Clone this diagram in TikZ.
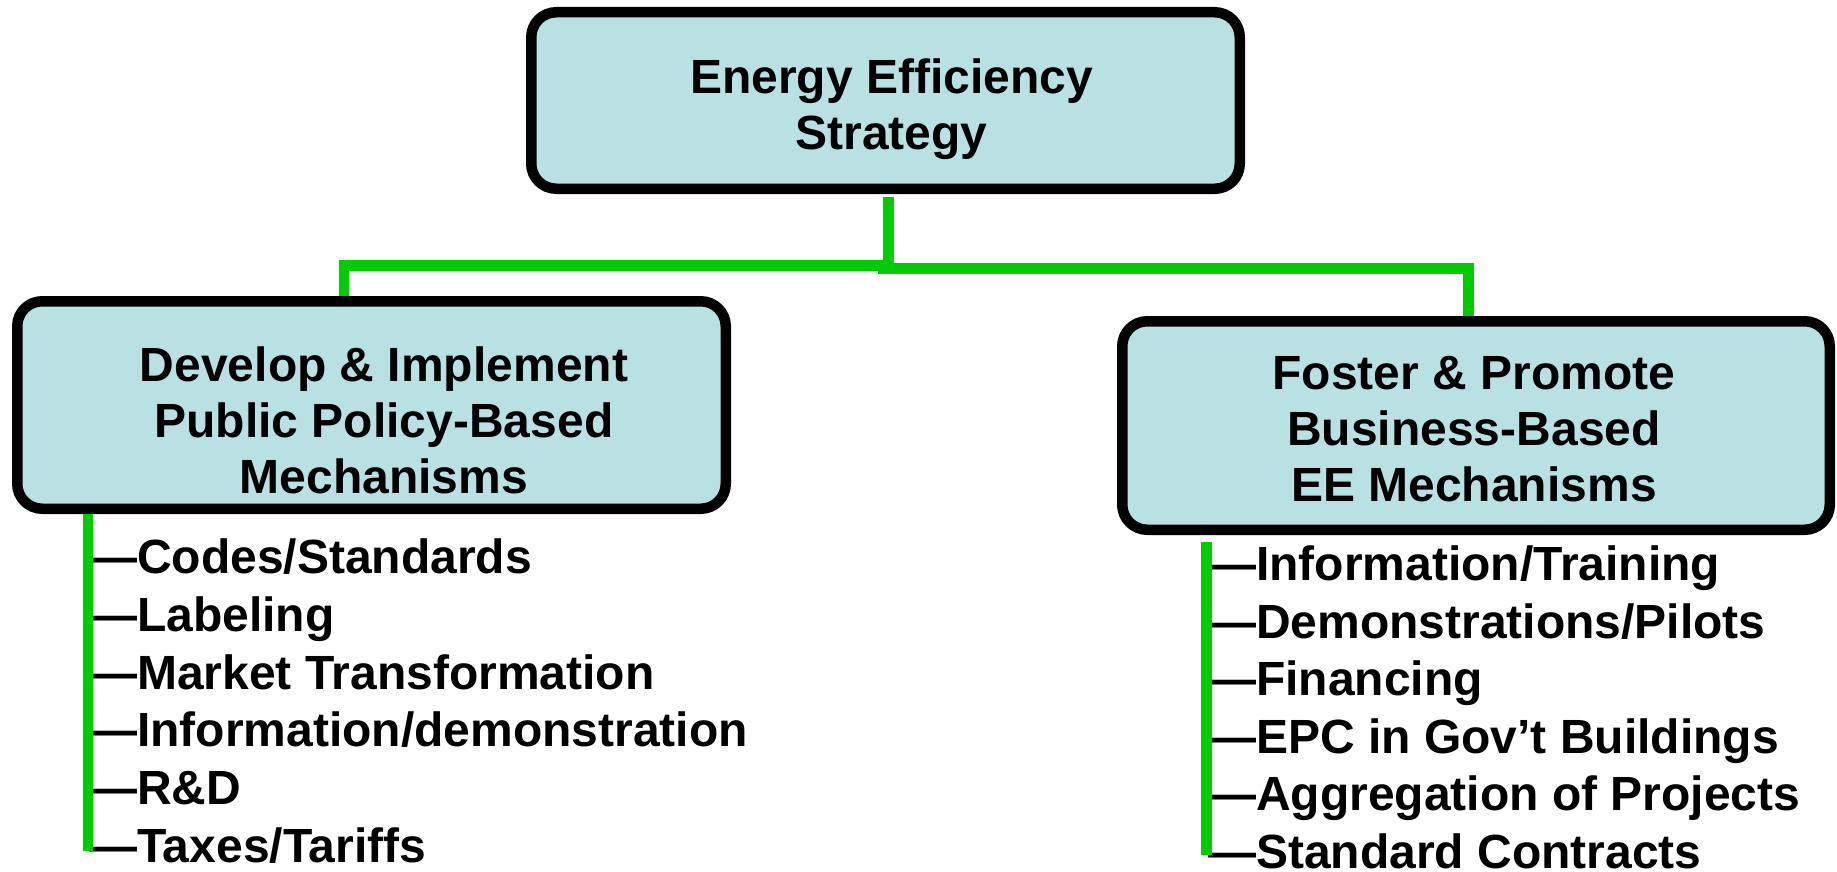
\documentclass[tikz,border=0pt]{standalone}
\usepackage{fontspec}
\setmainfont{Liberation Sans}
\definecolor{boxfill}{RGB}{185,224,227}
\definecolor{linegreen}{RGB}{0,204,0}
\tikzset{
  boxshape/.style={draw=black, fill=boxfill, line width=10.5pt, rounded corners=25pt, rectangle, inner sep=0pt},
  boxtext/.style={align=center, inner sep=0pt, font=\fontsize{48}{56}\selectfont\bfseries},
  itemtext/.style={anchor=base west, inner sep=0pt, font=\fontsize{48}{56}\selectfont\bfseries},
  greenline/.style={draw=linegreen, line width=10.5pt, line join=miter, line cap=butt},
}
\begin{document}
\begin{tikzpicture}[x=1pt,y=-1pt]
\useasboundingbox (0,0) rectangle (1837,872);
% boxes
\node[boxshape, minimum width=708.5pt, minimum height=176.5pt] (root) at (885.5,100.5) {};
\node[boxshape, minimum width=708.5pt, minimum height=207.5pt] (lbox) at (371.5,405) {};
\node[boxshape, minimum width=707.5pt, minimum height=208.5pt] (rbox) at (1476,425.5) {};
% box texts
\node[boxtext] (roottext) at (891.5,108.7) {Energy Efficiency\\Strategy};
\node[boxtext] (ltext) at (384,420) {Develop \& Implement\\Public Policy-Based\\Mechanisms};
\node[boxtext] (rtext) at (1474,429) {Foster \& Promote\\Business-Based\\EE Mechanisms};
% tree connectors
\coordinate (j) at (888.5,271);
\coordinate (jl) at (888.5,265.5);
\coordinate (jr) at (878,268.5);
\draw[greenline] ([yshift=-3pt]root.south -| j) -- (j);
\draw[greenline] (jl) -| ([xshift=-27.5pt]lbox.north);
\draw[greenline] (jr) -| ([xshift=-7.5pt]rbox.north);
% left list
\foreach \t [count=\i from 0] in {Codes/Standards,Labeling,Market Transformation,Information/demonstration,R\&D,Taxes/Tariffs}{
  \node[itemtext] (l\i) at (89,573.5+57.8*\i) {—\t};
}
% right list
\foreach \t [count=\i from 0] in {Information/Training,Demonstrations/Pilots,Financing,EPC in Gov’t Buildings,Aggregation of Projects,Standard Contracts}{
  \node[itemtext] (r\i) at (1208,580.5+57.6*\i) {—\t};
}
\coordinate (lend) at (88,851);
\coordinate (rend) at (1206.5,855);
\draw[greenline, line width=10pt] (lbox.south -| lend) -- (lend);
\draw[greenline, line width=11pt] ([yshift=-7pt]rbox.south -| rend) -- (rend);
\end{tikzpicture}
\end{document}
